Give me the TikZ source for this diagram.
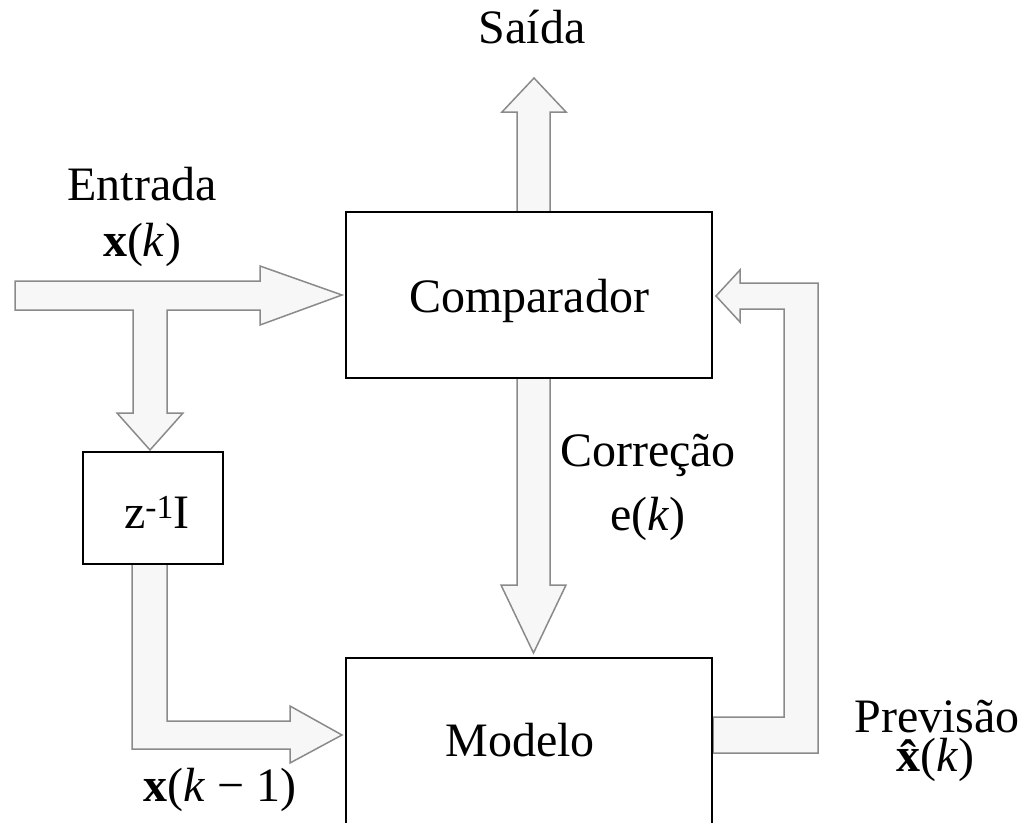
\documentclass[tikz,border=0pt]{standalone}
\usepackage{fontspec}
\setmainfont{Liberation Serif}
\definecolor{arrowfill}{HTML}{F7F7F7}
\definecolor{arrowline}{HTML}{8A8A8A}
\begin{document}
\begin{tikzpicture}[x=1pt,y=-1pt,
  blockarrow/.style={fill=arrowfill,draw=arrowline,line width=1.5pt,line join=miter},
  block/.style={draw=black,line width=2pt,fill=white,inner sep=0pt},
  txt/.style={anchor=base,inner sep=0pt,font=\fontsize{48}{58}\selectfont}]
\useasboundingbox (0,0) rectangle (1025,822);
\clip (0,0) rectangle (1025,822);

% block arrows
% input, splitting towards the comparator and the delay
\draw[blockarrow] (15,281) -- (260,281) -- (260,266) -- (342,295) -- (260,325) -- (260,310)
  -- (167,310) -- (167,413) -- (183,413) -- (150,450) -- (117,413) -- (133,413)
  -- (133,310) -- (15,310) -- cycle;
% delayed input into the model
\draw[blockarrow] (132,563) -- (167,563) -- (167,721) -- (290,721) -- (290,706)
  -- (342,735) -- (290,763) -- (290,749) -- (132,749) -- cycle;
% output
\draw[blockarrow] (517,212) -- (517,112) -- (502,112) -- (534,78) -- (566,112)
  -- (550,112) -- (550,212) -- cycle;
% correction
\draw[blockarrow] (517,378) -- (517,585) -- (501,585) -- (533.5,653) -- (566,585)
  -- (550,585) -- (550,378) -- cycle;
% prediction fed back to the comparator
\draw[blockarrow] (713,717) -- (784,717) -- (784,309) -- (740,309) -- (740,322)
  -- (716,296) -- (740,270) -- (740,283) -- (818,283) -- (818,753) -- (713,753) -- cycle;

% blocks
\node[block,minimum width=366pt,minimum height=166pt] (comp) at (529,295) {};
\node[block,minimum width=366pt,minimum height=200pt] (model) at (529,758) {};
\node[block,minimum width=140pt,minimum height=112pt] (delay) at (153,508) {};

% texts
\node[txt] (comptxt) at (529,312) {Comparador};
\node[txt] (modeltxt) at (520,756) {Modelo};
\node[txt] (delaytxt) at (157,528) {z\textsuperscript{-1}I};
\node[txt] (out) at (532,43) {Saída};
\node[txt] (in) at (142,200) {Entrada};
\node[txt] (inx) at (142,256) {\textbf{x}(\textit{k})};
\node[txt] (corr) at (648,466) {Correção};
\node[txt] (corre) at (648,530) {e(\textit{k})};
\node[txt] (prev) at (937,732) {Previsão};
\node[txt] (prevx) at (935,771) {\textbf{\rlap{\makebox[0.5em]{\raisebox{-2pt}{\char"02C6}}}x}(\textit{k})};
\node[txt] (xprev) at (220,801) {\textbf{x}(\textit{k} − 1)};
\end{tikzpicture}
\end{document}
